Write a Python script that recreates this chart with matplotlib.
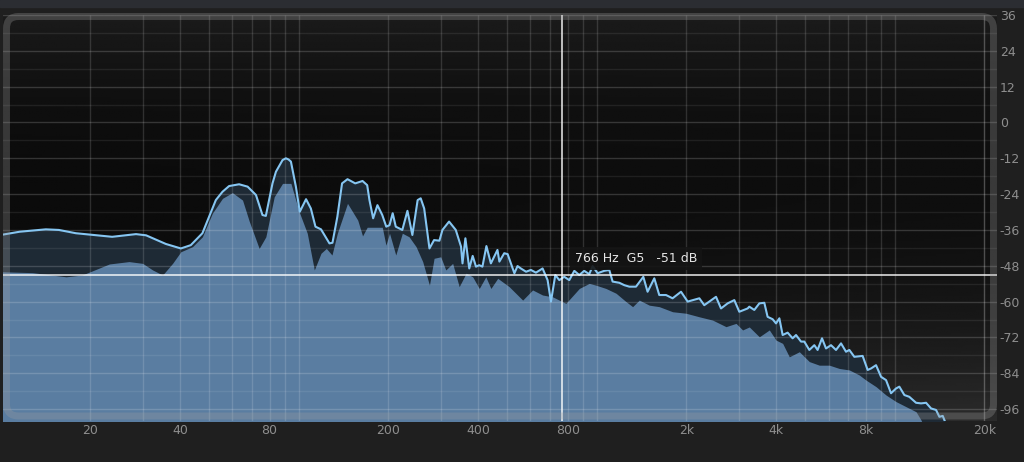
import numpy as np
import matplotlib
matplotlib.use("Agg")
import matplotlib.pyplot as plt
from matplotlib.patches import FancyBboxPatch, Rectangle
from matplotlib.transforms import Affine2D
from matplotlib.ticker import NullLocator

# peak-hold curve (Hz, dB)
peak_hz = [10, 11.6, 14.2, 15.7, 17.9, 23.7, 28.5, 30.8, 35.9, 40.3, 43.5, 47.6,
           52.8, 55.6, 58.5, 63.2, 67.5, 72.0, 75.7, 77.7, 81.8, 84.0, 88.4, 90.7, 92.6, 94.3, 98.0,
           101, 106, 110, 114, 119, 127, 130, 135, 140, 146, 155, 164, 170, 173,
           178, 184, 191, 197, 202, 207, 212, 223, 232, 241, 251, 257, 264, 275,
           285, 297, 304, 320, 337, 351, 355, 363, 374, 384, 394, 404, 414, 427,
           442, 465, 472, 490, 503, 516, 530, 543, 557, 580, 602, 626, 659, 685,
           703, 727, 750, 779, 810, 842, 875, 909, 945, 970, 1008, 1061, 1103,
           1132, 1192, 1239, 1288, 1356, 1435, 1483, 1562, 1623, 1710, 1799, 1920,
           2021, 2212, 2298, 2516, 2615, 2752, 2898, 3012, 3212, 3254, 3382, 3516,
           3654, 3748, 3896, 4000, 4104, 4210, 4375, 4547, 4668, 4852, 4977, 5173,
           5377, 5515, 5706, 5885, 6117, 6358, 6609, 6869, 7047, 7325, 7810, 8118,
           8334, 8662, 9004, 9357, 9725, 10109, 10370, 10780, 11200, 11800, 12265,
           12750, 13250, 13770, 14130, 14500, 14690, 15500]
peak_db = [-37.7, -36.6, -35.8, -36.0, -37.1, -38.3, -37.4, -37.8, -40.7, -42.2, -41.1, -37.1,
           -26.0, -23.2, -21.3, -20.7, -21.5, -24.3, -31.0, -31.3, -20.4, -16.5, -12.6, -12.0, -12.4, -13.1, -21.5,
           -29.9, -25.7, -28.8, -34.9, -35.8, -40.5, -40.3, -31.6, -20.4, -19.0, -20.4, -19.6, -21.0, -26.0,
           -32.1, -27.7, -31.0, -34.9, -34.4, -30.4, -34.9, -36.0, -29.6, -37.7, -26.0, -25.4, -28.8, -42.2,
           -39.4, -39.6, -36.0, -33.2, -36.0, -41.6, -47.2, -38.8, -48.9, -44.7, -48.3, -47.8, -48.3, -41.4,
           -47.2, -42.7, -46.6, -43.8, -44.1, -47.2, -50.5, -48.1, -48.9, -50.0, -49.4, -50.3, -48.9, -52.8,
           -60.0, -51.1, -52.8, -51.7, -52.8, -49.7, -51.1, -49.7, -50.8, -48.1, -50.5, -49.7, -49.4,
           -53.3, -53.7, -54.5, -55.0, -55.0, -51.7, -56.7, -52.2, -57.8, -57.8, -58.9, -56.7,
           -60.0, -58.9, -61.2, -58.4, -62.3, -60.6, -59.5, -63.4, -62.3, -61.7, -62.8, -60.6,
           -60.4, -65.1, -65.9, -67.3, -65.6, -71.2, -70.4, -72.3, -71.2, -73.4, -73.4, -76.2,
           -74.6, -76.2, -72.3, -75.7, -74.6, -76.2, -74.0, -76.8, -76.2, -78.5, -78.2, -82.9,
           -82.4, -81.3, -85.2, -86.3, -90.7, -89.1, -88.5, -91.3, -91.9, -93.9, -94.1,
           -93.9, -95.8, -96.3, -98.6, -98.3, -99.7, -106]

# average spectrum (Hz, dB)
avg_hz = [10, 12.8, 16.6, 18.8, 23.2, 27.0, 30.0, 32.4, 35.0, 37.8, 40.3, 44.1, 47.6,
          51.4, 55.6, 60.0, 64.9, 68.3, 73.8, 77.7, 82.9, 88.4, 94.3, 100.5, 107, 113,
          119, 124, 129.5, 135, 146, 158, 164, 170, 191, 196.5, 202, 212, 223, 235, 248,
          261, 275, 285, 300, 312, 329, 346, 365, 384, 404, 425, 442, 466, 509, 565, 610,
          659, 712, 789, 875, 945, 995, 1075, 1162, 1255, 1321, 1391, 1503, 1623, 1799,
          1995, 2212, 2451, 2718, 2937, 3090, 3254, 3516, 3798, 4000, 4210, 4432, 4789,
          5173, 5588, 6037, 6522, 7047, 7612, 8017, 8662, 9357, 10109, 10920, 11800,
          12265, 13000]
avg_db = [-50.0, -50.3, -51.7, -51.1, -47.4, -46.6, -47.2, -49.4, -51.1, -47.2, -43.3, -41.6, -38.3,
          -30.4, -25.4, -23.5, -26.0, -33.0, -42.2, -38.3, -24.9, -20.4, -20.4, -29.9, -37.1, -49.4,
          -43.8, -42.2, -44.4, -37.1, -27.1, -32.7, -38.0, -35.1, -35.1, -41.1, -37.1, -44.4, -37.1, -38.3, -41.6,
          -46.6, -54.5, -45.5, -45.0, -49.4, -47.2, -55.0, -50.5, -51.7, -55.6, -51.7, -55.6, -52.2, -55.0, -59.5, -56.1,
          -57.8, -58.4, -60.6, -55.6, -53.9, -54.5, -55.6, -57.2, -60.0, -61.7, -59.5, -61.2, -61.7, -63.4,
          -63.9, -65.1, -66.2, -68.4, -67.3, -69.5, -68.5, -71.8, -69.5, -72.9, -74.0, -78.5, -76.8,
          -80.1, -81.3, -81.3, -82.4, -82.9, -84.6, -86.3, -88.5, -91.3, -93.5, -95.2, -96.9,
          -99.7, -106]

x_ticks = [20, 40, 80, 200, 400, 800, 2000, 4000, 8000, 20000]
x_labels = ["20", "40", "80", "200", "400", "800", "2k", "4k", "8k", "20k"]
y_ticks = list(range(-96, 37, 12))
cursor_hz = 766
cursor_db = -51
cursor_text = "766 Hz  G5   -51 dB"

W, H = 1024, 462
fig = plt.figure(figsize=(W / 100, H / 100), dpi=100, facecolor="#1f1f1f")
px = Affine2D().scale(1 / W, 1 / H) + fig.transFigure


def box(l, t, r, b):
    return [l / W, (H - b) / H, (r - l) / W, (b - t) / H]


axpos = box(3, 15, 997, 421)

# dark gradient behind the plot
bg = fig.add_axes(axpos, zorder=0)
yy, xx = np.mgrid[0:1:200j, 0:1:400j]
shade = 11 + 80 * (yy - 0.45) ** 2 + 8 * xx * yy
bg.imshow(shade, cmap="gray", vmin=0, vmax=255, aspect="auto")
bg.axis("off")

ax = fig.add_axes(axpos, zorder=1)
ax.patch.set_alpha(0)
ax.set_xscale("log")

ax.fill_between(peak_hz, -130, peak_db, color="#1e2a35", lw=0, zorder=1)
ax.fill_between(avg_hz, -130, avg_db, color="#5a7da1", lw=0, zorder=2)

# grid
grid_f = [k * 10 ** d for d in range(1, 5) for k in range(1, 10)] + [20000]
ax.vlines(grid_f, -100, 36, color="white", alpha=0.14, lw=1, zorder=3)
for v in range(-96, 37, 6):
    ax.axhline(v, color="white", alpha=0.17 if v % 12 == 0 else 0.08, lw=1, zorder=3)

ax.plot(peak_hz, peak_db, color="#86c6f2", lw=1.5, zorder=5, solid_joinstyle="round")

# cursor
ax.axvline(cursor_hz, color="white", lw=1.2, alpha=0.85, zorder=6)
ax.axhline(cursor_db, color="white", lw=1.2, alpha=0.85, zorder=6)
ax.annotate(cursor_text, xy=(cursor_hz, cursor_db), xytext=(9, 12),
            textcoords="offset points", color="#e6e6e6", fontsize=9,
            ha="left", va="center", zorder=7,
            bbox=dict(boxstyle="square,pad=0.4", fc="#141414", ec="none", alpha=0.9))

ax.set_xlim(10.2, 22050)
ax.set_ylim(-100, 36)
ax.set_xticks(x_ticks)
ax.set_xticklabels(x_labels)
ax.xaxis.set_minor_locator(NullLocator())
ax.yaxis.tick_right()
ax.set_yticks(y_ticks)
ax.set_yticklabels([str(v) for v in y_ticks])
ax.tick_params(length=0, colors="#8e8e8e", labelsize=9)
ax.tick_params(axis="x", pad=2)
ax.tick_params(axis="y", pad=2)
for s in ax.spines.values():
    s.set_visible(False)

# rounded frame and top strip
frame = FancyBboxPatch((6.5, H - 416), 987, 399.5,
                       boxstyle="round,pad=0,rounding_size=12", transform=px,
                       fill=False, ec=(0.62, 0.62, 0.62, 0.3), lw=5, zorder=5)
fig.add_artist(frame)
fig.add_artist(Rectangle((0, H - 7), W, 7, transform=px, color="#2b2d32", zorder=5))

fig.savefig("out.png", dpi=100, facecolor=fig.get_facecolor())
